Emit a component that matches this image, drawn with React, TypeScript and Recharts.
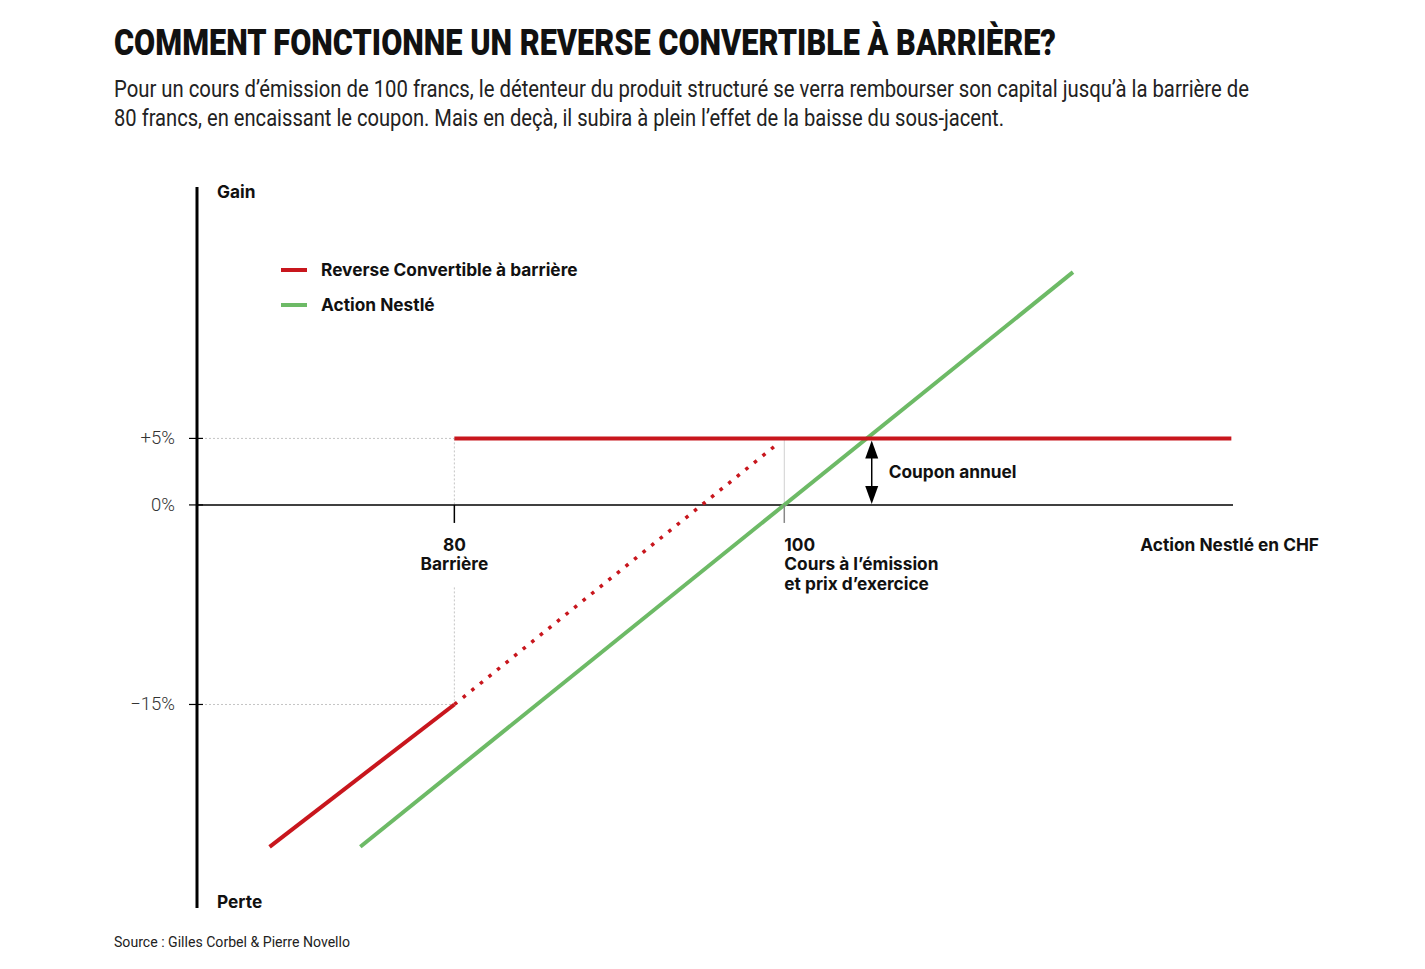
import React from "react";
import { Legend, Line, LineChart, ReferenceDot, ReferenceLine, XAxis, YAxis } from "recharts";

// Cours de l'action (CHF) et gain/perte (%)
const nestle = [
  { x: 74.3, y: -25.7 },
  { x: 117.5, y: 17.5 },
];
const rcBelowBarrier = [
  { x: 68.8, y: -25.7 },
  { x: 80, y: -15 },
];
const rcDotted = [
  { x: 80, y: -15 },
  { x: 99.6, y: 4.6 },
];
const rcCoupon = [
  { x: 80, y: 5 },
  { x: 127.1, y: 5 },
];

const yTicks = [5, 0, -15];
const yTickLabels: Record<string, string> = { "5": "+5%", "0": "0%", "-15": "−15%" };
const barrier = { x: 80, lines: ["80", "Barrière"] };
const issue = { x: 100, lines: ["100", "Cours à l’émission", "et prix d’exercice"] };
const couponX = 105.3;
const couponLabel = "Coupon annuel";
const xAxisTitle = "Action Nestlé en CHF";
const legendItems = [
  { name: "Reverse Convertible à barrière", color: "#c8161d" },
  { name: "Action Nestlé", color: "#6dba66" },
];
const subtitleLines = [
  "Pour un cours d’émission de 100 francs, le détenteur du produit structuré se verra rembourser son capital jusqu’à la barrière de",
  "80 francs, en encaissant le coupon. Mais en deçà, il subira à plein l’effet de la baisse du sous-jacent.",
];
const subtitleWidths = [1135, 890];

const xDomain: [number, number] = [64.4, 127.2];
const yDomain: [number, number] = [-30.3, 23.9];

const RED = "#c8161d";
const GREEN = "#6dba66";
const GRID = "#c4c4c4";
const HEAD_FONT = "Roboto, 'Open Sans', sans-serif";
const LABEL_FONT = "Inter, Roboto, sans-serif";
const LABEL_SIZE = 17.3;
const SQUEEZE = 0.8;

const YTick = (props: any) => {
  const { x, y, payload } = props;
  return (
    <g>
      <line x1={x - 8} x2={x + 6} y1={y} y2={y} stroke="#000" strokeWidth={1.2} />
      <text x={x - 22} y={y + 6} textAnchor="end" fontFamily={HEAD_FONT} fontWeight={300} fontSize={18.5} fill="#333">
        {yTickLabels[String(payload.value)]}
      </text>
    </g>
  );
};

const TickLabel = ({ cx, cy, lines, anchor, color }: any) => (
  <g>
    <line x1={cx} x2={cx} y1={cy} y2={cy + 18} stroke={color} strokeWidth={1.5} />
    {lines.map((l: string, i: number) => (
      <text
        key={l}
        x={cx}
        y={cy + 46 + i * 19.5}
        textAnchor={anchor}
        fontFamily={LABEL_FONT}
        fontWeight={700}
        fontSize={LABEL_SIZE}
        fill="#111"
      >
        {l}
      </text>
    ))}
  </g>
);

const CouponArrow = (props: any) => {
  const { x1, y1, y2 } = props;
  const top = Math.min(y1, y2);
  const bot = Math.max(y1, y2);
  return (
    <g>
      <line x1={x1} x2={x1} y1={top + 10} y2={bot - 10} stroke="#000" strokeWidth={1.5} />
      <polygon points={`${x1},${top + 2} ${x1 - 6.5},${top + 20} ${x1 + 6.5},${top + 20}`} fill="#000" />
      <polygon points={`${x1},${bot - 1} ${x1 - 6.5},${bot - 19} ${x1 + 6.5},${bot - 19}`} fill="#000" />
    </g>
  );
};

const LegendContent = () => (
  <div style={{ fontFamily: LABEL_FONT }}>
    {legendItems.map((item) => (
      <div key={item.name} style={{ display: "flex", alignItems: "center", height: 35 }}>
        <span style={{ display: "inline-block", width: 26, height: 4, background: item.color, marginRight: 14 }} />
        <span style={{ fontWeight: 700, fontSize: LABEL_SIZE, color: "#111" }}>{item.name}</span>
      </div>
    ))}
  </div>
);

export default function App() {
  return (
    <div style={{ position: "absolute", left: 0, top: 0, width: 1425, height: 969, background: "#fff", overflow: "hidden" }}>
      <svg width={1425} height={140} style={{ position: "absolute", left: 0, top: 0 }}>
        <text
          transform={`translate(114,55) scale(${SQUEEZE},1)`}
          fontFamily={HEAD_FONT}
          fontWeight={900}
          fontSize={37}
          fill="#111"
          textLength={942 / SQUEEZE}
          lengthAdjust="spacingAndGlyphs"
        >
          COMMENT FONCTIONNE UN REVERSE CONVERTIBLE À BARRIÈRE?
        </text>
        {subtitleLines.map((line, i) => (
          <text
            key={i}
            transform={`translate(114,${97 + i * 29}) scale(${SQUEEZE},1)`}
            fontFamily={HEAD_FONT}
            fontWeight={400}
            fontSize={24}
            fill="#222"
            textLength={subtitleWidths[i] / SQUEEZE}
            lengthAdjust="spacingAndGlyphs"
          >
            {line}
          </text>
        ))}
      </svg>

      <div style={{ position: "absolute", left: 0, top: 0 }}>
        <LineChart width={1425} height={969} margin={{ top: 187, right: 192, bottom: 61, left: 137 }}>
          <XAxis dataKey="x" type="number" domain={xDomain} allowDataOverflow hide />
          <YAxis
            type="number"
            domain={yDomain}
            allowDataOverflow
            ticks={yTicks}
            width={60}
            tickSize={0}
            tickMargin={0}
            tickLine={false}
            axisLine={{ stroke: "#000", strokeWidth: 3 }}
            tick={<YTick />}
          />

          {/* lignes de repère */}
          <ReferenceLine segment={[{ x: xDomain[0], y: 5 }, { x: 80, y: 5 }]} stroke={GRID} strokeDasharray="2 2" />
          <ReferenceLine segment={[{ x: xDomain[0], y: -15 }, { x: 80, y: -15 }]} stroke={GRID} strokeDasharray="2 2" />
          <ReferenceLine segment={[{ x: 80, y: 5 }, { x: 80, y: 0 }]} stroke={GRID} strokeDasharray="2 2" />
          <ReferenceLine segment={[{ x: 80, y: -6.2 }, { x: 80, y: -15 }]} stroke={GRID} strokeDasharray="2 2" />
          <ReferenceLine segment={[{ x: 100, y: 5 }, { x: 100, y: 0 }]} stroke="#d0d0d0" />
          <ReferenceLine y={0} stroke="#000" strokeWidth={1.5} />

          <Line data={nestle} dataKey="y" name="Action Nestlé" type="linear" stroke={GREEN} strokeWidth={4} dot={false} isAnimationActive={false} />
          <Line data={rcDotted} dataKey="y" name="RC pointillé" type="linear" stroke={RED} strokeWidth={3.5} strokeDasharray="3.5 7.5" dot={false} isAnimationActive={false} legendType="none" />
          <Line data={rcBelowBarrier} dataKey="y" name="RC sous barrière" type="linear" stroke={RED} strokeWidth={4} dot={false} isAnimationActive={false} legendType="none" />
          <Line data={rcCoupon} dataKey="y" name="Reverse Convertible à barrière" type="linear" stroke={RED} strokeWidth={4} dot={false} isAnimationActive={false} />

          <ReferenceLine segment={[{ x: couponX, y: 0 }, { x: couponX, y: 5 }]} shape={<CouponArrow />} />
          <ReferenceDot
            x={couponX}
            y={2.5}
            shape={(p: any) => (
              <text x={p.cx + 17} y={p.cy + 6} fontFamily={LABEL_FONT} fontWeight={700} fontSize={LABEL_SIZE} fill="#111">
                {couponLabel}
              </text>
            )}
          />
          <ReferenceDot x={barrier.x} y={0} shape={(p: any) => <TickLabel cx={p.cx} cy={p.cy} lines={barrier.lines} anchor="middle" color="#000" />} />
          <ReferenceDot x={issue.x} y={0} shape={(p: any) => <TickLabel cx={p.cx} cy={p.cy} lines={issue.lines} anchor="start" color="#888" />} />
          <ReferenceDot
            x={xDomain[1]}
            y={0}
            ifOverflow="visible"
            shape={(p: any) => (
              <text x={p.cx + 86} y={p.cy + 46} textAnchor="end" fontFamily={LABEL_FONT} fontWeight={700} fontSize={LABEL_SIZE} fill="#111">
                {xAxisTitle}
              </text>
            )}
          />
          <ReferenceDot
            x={xDomain[0]}
            y={yDomain[1]}
            ifOverflow="visible"
            shape={(p: any) => (
              <text x={p.cx + 20} y={p.cy + 11} fontFamily={LABEL_FONT} fontWeight={700} fontSize={LABEL_SIZE} fill="#111">
                Gain
              </text>
            )}
          />
          <ReferenceDot
            x={xDomain[0]}
            y={yDomain[0]}
            ifOverflow="visible"
            shape={(p: any) => (
              <text x={p.cx + 20} y={p.cy} fontFamily={LABEL_FONT} fontWeight={700} fontSize={LABEL_SIZE} fill="#111">
                Perte
              </text>
            )}
          />

          <Legend
            layout="vertical"
            align="center"
            verticalAlign="middle"
            content={<LegendContent />}
            wrapperStyle={{ left: 281, top: 252, width: 400 }}
          />
        </LineChart>
      </div>

      <svg width={1425} height={40} style={{ position: "absolute", left: 0, top: 925 }}>
        <text x={114} y={22} fontFamily={HEAD_FONT} fontWeight={400} fontSize={14.5} fill="#222" textLength={236} lengthAdjust="spacingAndGlyphs">
          Source : Gilles Corbel &amp; Pierre Novello
        </text>
      </svg>
    </div>
  );
}
